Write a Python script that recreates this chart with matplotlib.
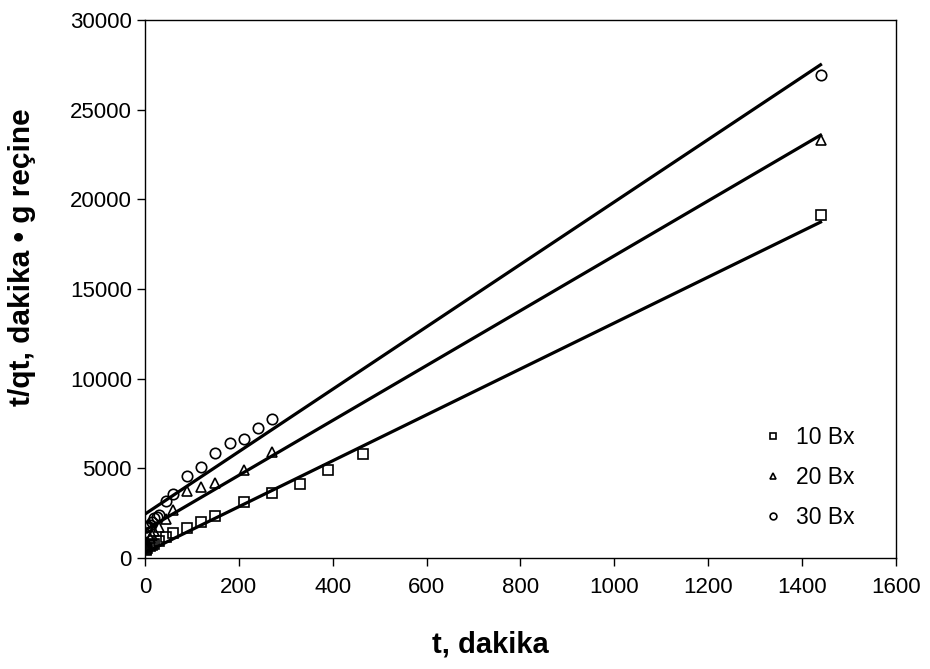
import numpy as np
import matplotlib as mpl
mpl.use('Agg')
import matplotlib.pyplot as plt

# 10 Bx
t10 = [1, 3, 5, 10, 15, 20, 30, 45, 60, 90, 120, 150, 210, 270, 330, 390, 465, 1440]
y10 = [450, 500, 560, 640, 720, 800, 950, 1150, 1380, 1680, 2000, 2340, 3100, 3650, 4120, 4900, 5800, 19150]
# 20 Bx
t20 = [1, 3, 5, 10, 15, 20, 30, 45, 60, 90, 120, 150, 210, 270, 1440]
y20 = [600, 750, 900, 1100, 1300, 1500, 1750, 2150, 2650, 3750, 3950, 4180, 4930, 5900, 23300]
# 30 Bx
t30 = [1, 3, 5, 10, 15, 20, 25, 30, 45, 60, 90, 120, 150, 180, 210, 240, 270, 1440]
y30 = [1700, 1750, 1800, 1850, 2000, 2250, 2300, 2400, 3200, 3550, 4550, 5100, 5850, 6400, 6620, 7270, 7730, 26950]

# dogrusal uyum (egim, kesim)
fit10 = (12.8, 300)
fit20 = (15.3, 1550)
fit30 = (17.4, 2450)
t_fit = [0, 1440]

labels = ['10 Bx', '20 Bx', '30 Bx']

plt.rcParams['font.family'] = ['Liberation Sans', 'DejaVu Sans']

fig = plt.figure(figsize=(9.3, 6.69), dpi=100)
ax = fig.add_axes([0.156, 0.166, 0.807, 0.804])

series = [(t10, y10, fit10, 's'), (t20, y20, fit20, '^'), (t30, y30, fit30, 'o')]
handles = []
for (t, y, fit, m), lab in zip(series, labels):
    xf = np.array(t_fit)
    ax.plot(xf, fit[0] * xf + fit[1], color='black', linewidth=2.3, zorder=2)
    h, = ax.plot(t, y, linestyle='none', marker=m, markersize=7.5,
                 markerfacecolor='none', markeredgecolor='black', markeredgewidth=1.2,
                 label=lab, zorder=3)
    handles.append(h)

ax.set_xlim(0, 1600)
ax.set_ylim(0, 30000)
ax.set_xticks(np.arange(0, 1601, 200))
ax.set_yticks(np.arange(0, 30001, 5000))
ax.tick_params(axis='both', labelsize=16, direction='out', length=6, width=1)
ax.tick_params(axis='x', pad=8)
for s in ax.spines.values():
    s.set_linewidth(1)

ax.set_xlabel('t, dakika', fontsize=21, fontweight='bold')
ax.set_ylabel('t/qt, dakika • g reçine', fontsize=21.5, fontweight='bold')
ax.xaxis.set_label_coords(0.46, -0.135)
ax.yaxis.set_label_coords(-0.145, 0.56)

ax.legend(handles=handles, loc='center left', bbox_to_anchor=(0.797, 0.15),
          frameon=False, fontsize=16.5, markerscale=0.65, handlelength=0.8,
          handletextpad=0.6, labelspacing=0.75)

plt.savefig('out.png', dpi=100)
plt.close('all')
